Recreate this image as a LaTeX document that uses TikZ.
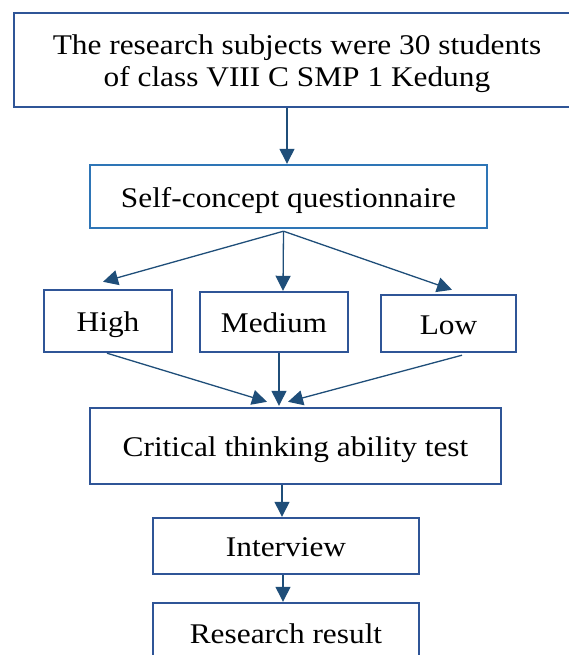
\documentclass[tikz,border=0pt]{standalone}
\usepackage{fontspec}
\setmainfont[FakeStretch=1.1]{Liberation Serif}
\usetikzlibrary{arrows.meta,calc}
\definecolor{boxblue}{RGB}{47,85,151}
\definecolor{lightbox}{RGB}{46,117,182}
\definecolor{arrowblue}{RGB}{31,78,121}
\begin{document}
\begin{tikzpicture}[x=1pt,y=-1pt,
  box/.style={draw=boxblue,line width=2.4pt,fill=white,inner sep=0pt,align=center,font=\fontsize{28.5}{32}\selectfont},
  lowered/.style={text height=27.5pt,text depth=6.2pt},
  arr/.style={draw=arrowblue,line width=1.3pt,-{Triangle[length=15pt,width=15pt]}}]
\useasboundingbox (0,0) rectangle (569,655);
\clip (0,0) rectangle (569,655);
\node[box,minimum width=566pt,minimum height=94pt,text height=59.5pt,text depth=6.2pt] (top) at (297,60) {The research subjects were 30 students\\of class VIII C SMP 1 Kedung};
\node[box,lowered,draw=lightbox,minimum width=397pt,minimum height=63pt] (self) at (288.5,196.5) {Self-concept questionnaire};
\node[box,lowered,minimum width=128pt,minimum height=62pt] (high) at (108,321) {High};
\node[box,lowered,minimum width=148pt,minimum height=60pt] (med) at (274,322) {Medium};
\node[box,lowered,minimum width=135pt,minimum height=57pt] (low) at (448.5,323.5) {Low};
\node[box,lowered,minimum width=411pt,minimum height=76pt] (crit) at (295.5,446) {Critical thinking ability test};
\node[box,lowered,minimum width=266pt,minimum height=56pt] (int) at (286,546) {Interview};
\node[box,lowered,minimum width=266pt,minimum height=60pt] (res) at (286,633) {Research result};
\coordinate (br) at ($(self.south)+(-5,2)$);
\draw[arr] ($(self.north |- top.south)+(-1.5,0)$) -- ($(self.north)+(-1.5,0)$);
\draw[arr] (br) -- ($(high.north)+(-5,-7)$);
\draw[arr] (br) -- ($(med.north)+(9,0)$);
\draw[arr] (br) -- ($(low.north)+(3.5,-4)$);
\draw[arr] ($(high.south)+(-1,0)$) -- ($(crit.north)+(-28.5,-5)$);
\draw[arr] ($(med.south)+(5,0)$) -- ($(crit.north)+(-16.5,-1)$);
\draw[arr] ($(low.south)+(13.5,2)$) -- ($(crit.north)+(-7.5,-5)$);
\draw[arr] ($(int.north |- crit.south)+(-4,0)$) -- ($(int.north)+(-4,0)$);
\draw[arr] ($(int.south)+(-3,0)$) -- ($(res.north)+(-3,0)$);
\end{tikzpicture}
\end{document}
